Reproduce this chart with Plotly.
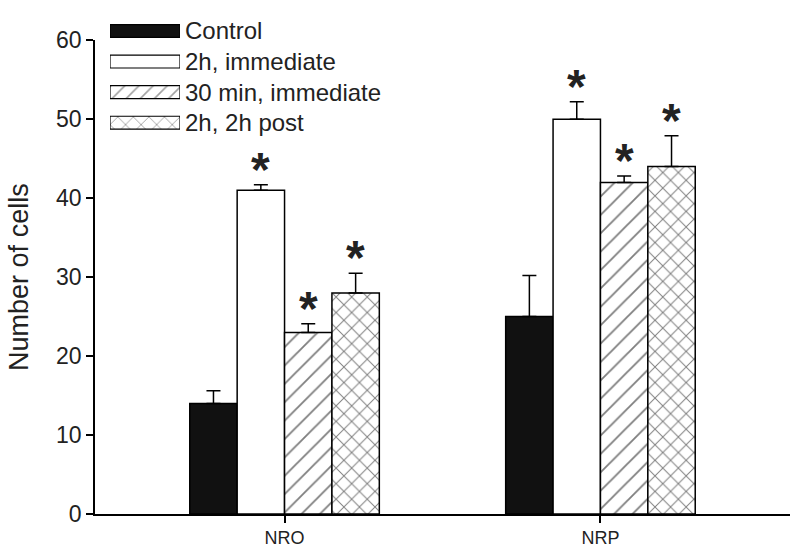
import plotly.graph_objects as go

# ---- data ----
groups = ["NRO", "NRP"]
series_names = ["Control", "2h, immediate", "30 min, immediate", "2h, 2h post"]
control = [14.0, 25.0]
immediate_2h = [41.0, 50.0]
immediate_30min = [23.0, 42.0]
post_2h = [28.0, 44.0]
control_err = [1.6, 5.2]
immediate_2h_err = [0.7, 2.2]
immediate_30min_err = [1.1, 0.8]
post_2h_err = [2.5, 3.9]
significant = [False, True, True, True]
y_ticks = [0, 10, 20, 30, 40, 50, 60]

values = [control, immediate_2h, immediate_30min, post_2h]
errors = [control_err, immediate_2h_err, immediate_30min_err, post_2h_err]

# ---- styles ----
FONT = "Liberation Sans, Arial, sans-serif"
TXT = "#222222"
fills = ["#111111", "white", "white", "white"]
patterns = ["", "", "/", "x"]
pat_sizes = [10, 10, 13, 11]
pat_solid = [0.15, 0.15, 0.14, 0.17]

fig = go.Figure()
for name, vals, errs, fc, pat, ps, sol in zip(series_names, values, errors, fills,
                                              patterns, pat_sizes, pat_solid):
    fig.add_trace(go.Bar(
        x=groups, y=vals, name=name, showlegend=False,
        marker=dict(color=fc, line=dict(color="black", width=1.5),
                    pattern=dict(shape=pat, fgcolor="black", bgcolor="white",
                                 size=ps, solidity=sol)),
        error_y=dict(type="data", array=errs, arrayminus=[0] * len(errs),
                     symmetric=False, color="black", thickness=1.5, width=7),
    ))

# custom legend swatches (wide keys like the original)
fig.add_trace(go.Bar(
    y=series_names, x=[1] * len(series_names), orientation="h",
    xaxis="x2", yaxis="y2", showlegend=False, width=0.42,
    marker=dict(color=fills, line=dict(color="black", width=1.2),
                pattern=dict(shape=patterns, fgcolor="black", bgcolor="white",
                             size=[10, 10, 10, 11], solidity=0.16)),
    hoverinfo="skip",
))

# significance asterisks
bargap = 0.4
n = len(series_names)
slot = (1 - bargap) / n
for si, (vals, errs) in enumerate(zip(values, errors)):
    if not significant[si]:
        continue
    off = -(1 - bargap) / 2 + slot * (si + 0.5)
    for gi in range(len(groups)):
        fig.add_annotation(
            x=gi + off, y=vals[gi] + errs[gi], xref="x", yref="y",
            text="<b>*</b>", showarrow=False, yanchor="bottom",
            yshift=-13, font=dict(family=FONT, size=48, color=TXT),
        )

fig.update_layout(
    width=800, height=556,
    margin=dict(l=95, r=10, t=0, b=42),
    paper_bgcolor="white", plot_bgcolor="white",
    barmode="group", bargap=bargap, bargroupgap=0,
    font=dict(family=FONT, color=TXT),
    xaxis=dict(
        type="category", range=[-0.6, 1.6], showline=True, linecolor="black",
        linewidth=1.5, ticks="outside", ticklen=7, tickcolor="black",
        tickwidth=1.5, showgrid=False, zeroline=False,
        tickfont=dict(size=18, color=TXT),
    ),
    yaxis=dict(
        domain=[0, 486 / 514], range=[0, 60], tickvals=y_ticks,
        showline=True, linecolor="black", linewidth=1.5, ticks="outside",
        ticklen=7, tickcolor="black", tickwidth=1.5, showgrid=False,
        zeroline=False, tickfont=dict(size=23, color=TXT),
        title=dict(text="Number of cells", font=dict(size=27, color=TXT),
                   standoff=20),
    ),
    xaxis2=dict(domain=[15 / 695, 85 / 695], range=[0, 1], anchor="y2",
                visible=False, fixedrange=True),
    yaxis2=dict(domain=[(514 - 128.2) / 514, (514 - 2.8) / 514], anchor="x2",
                side="right", type="category",
                categoryorder="array", categoryarray=series_names[::-1],
                showline=False, showgrid=False, zeroline=False, ticks="",
                tickfont=dict(size=24, color=TXT), ticklabelstandoff=4),
)

fig.write_html("out.html",
               config={"displayModeBar": False},
               post_script="document.body.style.margin='0';"
                           "document.body.style.overflow='hidden';")
